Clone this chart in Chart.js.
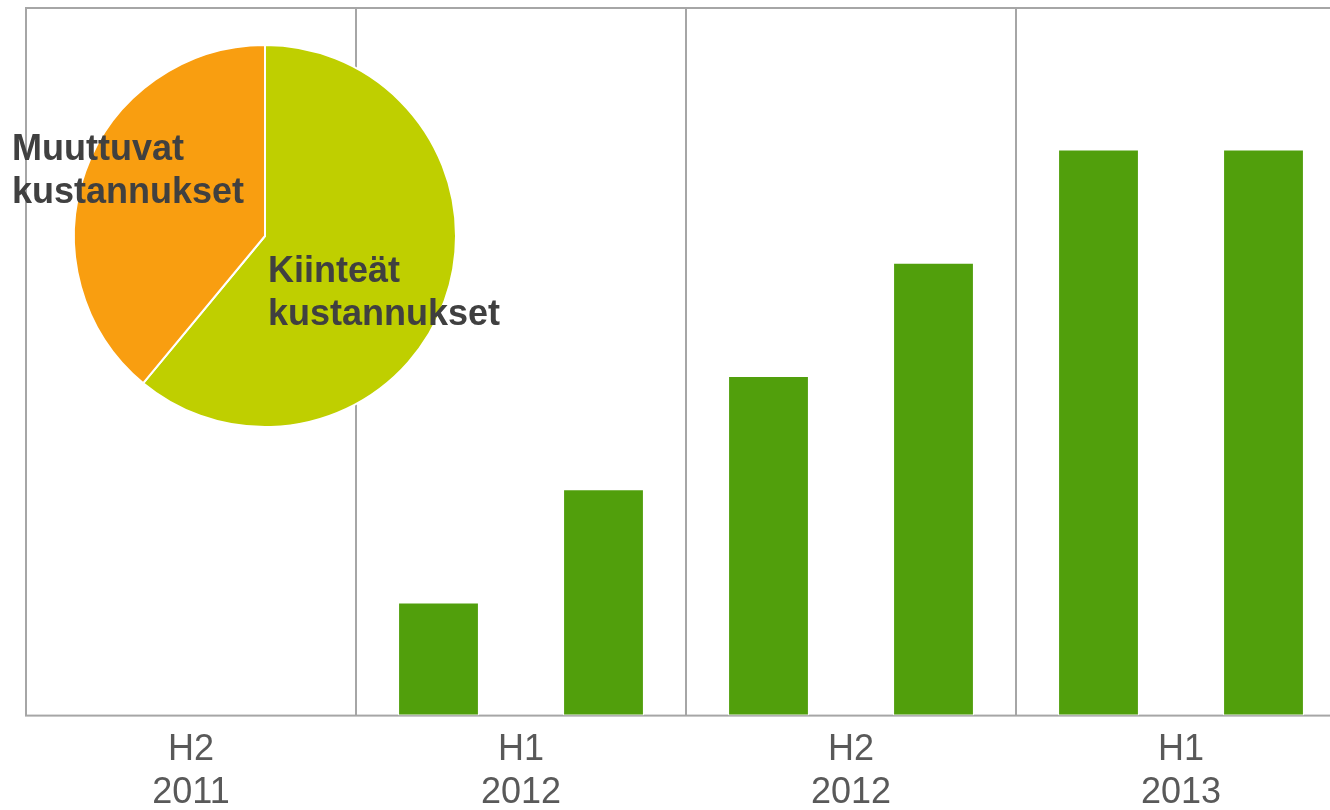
<!DOCTYPE html>
<html>
<head>
<meta charset="utf-8">
<script src="https://cdn.jsdelivr.net/npm/chart.js@4"></script>
<style>
  html, body { margin: 0; padding: 0; background: #fff; overflow: hidden; }
  #wrap { position: relative; width: 1360px; height: 828px; }
  #barChart { position: absolute; left: 0; top: 0; }
  #pieChart { position: absolute; left: 0; top: 0; }
</style>
</head>
<body>
<div id="wrap">
  <canvas id="barChart" width="1360" height="828"></canvas>
  <canvas id="pieChart" width="540" height="440"></canvas>
</div>
<script>
// kaudet (x-akseli)
const periods = [['H2', '2011'], ['H1', '2012'], ['H2', '2012'], ['H1', '2013']];
// pylväät, kaksi per kausi
const firstBars = [null, 1, 3, 5];
const secondBars = [null, 2, 4, 5];
const yMax = 6.25;

// piirakka
const pieLabels = [['Kiinteät', 'kustannukset'], ['Muuttuvat', 'kustannukset']];
const pieValues = [61, 39];

const barGreen = '#519f0c';
const pieColors = ['#bfcf00', '#f99e10'];
const textColor = '#404040';

// kehys kaavion ympärille
const framePlugin = {
  id: 'frame',
  beforeDatasetsDraw(chart) {
    const { ctx, chartArea } = chart;
    ctx.save();
    ctx.strokeStyle = '#a6a6a6';
    ctx.lineWidth = 2;
    ctx.strokeRect(chartArea.left, chartArea.top, chartArea.right - chartArea.left, chartArea.bottom - chartArea.top);
    ctx.restore();
  }
};

new Chart(document.getElementById('barChart'), {
  type: 'bar',
  data: {
    labels: periods,
    datasets: [
      { data: firstBars, backgroundColor: barGreen, borderColor: '#ffffff', borderWidth: 1, borderSkipped: false },
      { data: secondBars, backgroundColor: barGreen, borderColor: '#ffffff', borderWidth: 1, borderSkipped: false }
    ]
  },
  options: {
    responsive: false,
    animation: false,
    layout: { padding: { left: 26, right: 14, top: 8, bottom: 0 } },
    datasets: { bar: { categoryPercentage: 1, barPercentage: 0.49 } },
    scales: {
      x: {
        offset: true,
        grid: { display: true, offset: true, color: '#a6a6a6', lineWidth: 2, drawTicks: false },
        border: { display: false },
        ticks: {
          color: '#595959',
          padding: 13,
          maxRotation: 0,
          font: { family: '"Liberation Sans", Arial, sans-serif', size: 36, lineHeight: 1.2 }
        }
      },
      y: { display: false, min: 0, max: yMax }
    },
    plugins: { legend: { display: false }, tooltip: { enabled: false } }
  },
  plugins: [framePlugin]
});

// tekstit piirakan päälle
const pieTextPlugin = {
  id: 'pieText',
  afterDraw(chart, args, opts) {
    const ctx = chart.ctx;
    ctx.save();
    ctx.fillStyle = textColor;
    ctx.font = 'bold 36px "Liberation Sans", Arial, sans-serif';
    ctx.textBaseline = 'alphabetic';
    pieLabels.forEach((lines, i) => {
      const p = opts.positions[i];
      lines.forEach((line, j) => ctx.fillText(line, p.x, p.y + j * 43));
    });
    ctx.restore();
  }
};

new Chart(document.getElementById('pieChart'), {
  type: 'pie',
  data: {
    labels: pieLabels.map(l => l.join(' ')),
    datasets: [{
      data: pieValues,
      backgroundColor: pieColors,
      borderColor: '#ffffff',
      borderWidth: 2
    }]
  },
  options: {
    responsive: false,
    animation: false,
    layout: { padding: { left: 73, top: 44, right: 83, bottom: 12 } },
    plugins: {
      legend: { display: false },
      tooltip: { enabled: false },
      pieText: { positions: [{ x: 268, y: 282 }, { x: 12, y: 160 }] }
    }
  },
  plugins: [pieTextPlugin]
});
</script>
</body>
</html>
